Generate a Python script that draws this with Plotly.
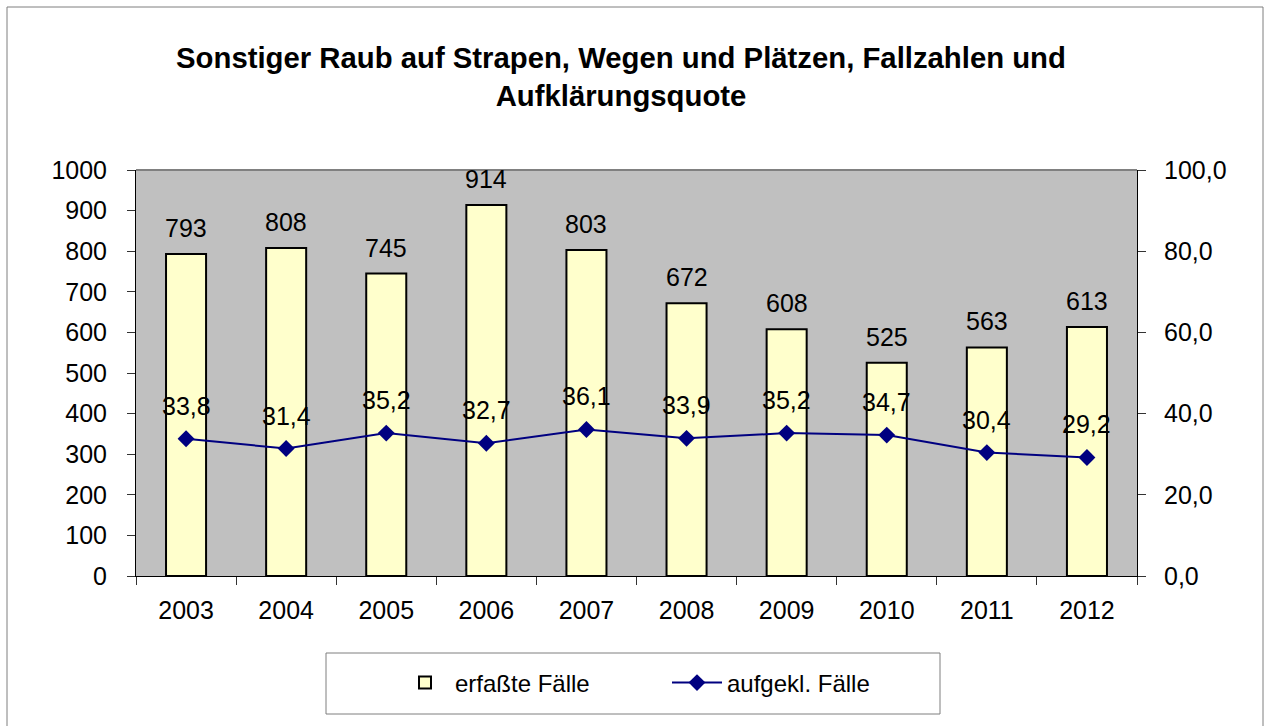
import plotly.graph_objects as go

years = ["2003", "2004", "2005", "2006", "2007", "2008", "2009", "2010", "2011", "2012"]
erfasste = [793, 808, 745, 914, 803, 672, 608, 525, 563, 613]
aufgeklaert = [33.8, 31.4, 35.2, 32.7, 36.1, 33.9, 35.2, 34.7, 30.4, 29.2]

title_text = "Sonstiger Raub auf Strapen, Wegen und Plätzen, Fallzahlen und<br>Aufklärungsquote"
name_bar = "erfaßte Fälle"
name_line = "aufgekl. Fälle"

FONT = "Arial, Liberation Sans, sans-serif"

fig = go.Figure()
fig.add_trace(go.Bar(
    x=years, y=erfasste, name=name_bar, width=0.4,
    marker=dict(color="#FFFFCC", line=dict(color="#000000", width=2)),
    yaxis="y",
))
fig.add_trace(go.Scatter(
    x=years, y=aufgeklaert, name=name_line, mode="lines+markers",
    line=dict(color="#000080", width=2),
    marker=dict(symbol="diamond", size=13, color="#000080"),
    yaxis="y2",
))

annotations = []
for i, v in enumerate(erfasste):
    annotations.append(dict(x=i, y=v, xref="x", yref="y", text=str(v), showarrow=False,
                            yanchor="middle", yshift=26, font=dict(family=FONT, size=25, color="#000")))
for i, v in enumerate(aufgeklaert):
    annotations.append(dict(x=i, y=v, xref="x", yref="y2", text=f"{v:.1f}".replace(".", ","), showarrow=False,
                            yanchor="middle", yshift=33, font=dict(family=FONT, size=25, color="#000")))

L, R, T, B = 136, 129, 170, 150
W, H = 1266, 726
pw, ph = W - L - R, H - T - B

def px_x(p):
    return (p - L) / pw

def px_y(p):
    return (H - B - p) / ph

shapes = [
    # outer chart border
    dict(type="rect", xref="paper", yref="paper", x0=px_x(7), x1=px_x(1263), y0=px_y(760), y1=px_y(7),
         line=dict(color="#7f7f7f", width=1), fillcolor="rgba(0,0,0,0)", layer="below"),
    # top border of plot area
    dict(type="line", xref="paper", yref="paper", x0=0, x1=1, y0=1, y1=1,
         line=dict(color="#808080", width=2)),
    # legend box
    dict(type="rect", xref="paper", yref="paper", x0=px_x(326), x1=px_x(940), y0=px_y(714), y1=px_y(653),
         line=dict(color="#7f7f7f", width=1), fillcolor="rgba(0,0,0,0)"),
]

fig.update_layout(
    width=W, height=H,
    margin=dict(l=L, r=R, t=T, b=B),
    paper_bgcolor="#FFFFFF",
    plot_bgcolor="#C0C0C0",
    separators=",.",
    font=dict(family=FONT, size=25, color="#000000"),
    title=dict(text=title_text, x=621 / W, xref="container", xanchor="center",
               y=1 - 68 / H, yref="container", yanchor="middle",
               font=dict(family=FONT, size=29.3, color="#000000", weight="bold")),
    showlegend=True,
    legend=dict(orientation="h", x=px_x(395), xanchor="left", y=px_y(683), yanchor="middle",
                font=dict(family=FONT, size=24), bgcolor="rgba(0,0,0,0)", borderwidth=0,
                entrywidth=207, itemwidth=50),
    xaxis=dict(type="category", range=[-0.5, len(years) - 0.5], autorange=False,
               showline=True, linecolor="#000000", linewidth=1,
               ticks="outside", tickson="boundaries", ticklen=8, tickcolor="#333333",
               showgrid=False, ticklabelstandoff=12, tickfont=dict(size=25)),
    yaxis=dict(range=[0, 1000], dtick=100, showline=True, linecolor="#000000", linewidth=1,
               ticks="outside", ticklen=8, tickcolor="#333333", showgrid=False, zeroline=False,
               ticklabelstandoff=15, tickfont=dict(size=25)),
    yaxis2=dict(range=[0, 100], dtick=20, tickformat=".1f", overlaying="y", side="right",
                showline=True, linecolor="#000000", linewidth=1,
                ticks="outside", ticklen=8, tickcolor="#333333", showgrid=False, zeroline=False,
                ticklabelstandoff=13, tickfont=dict(size=25)),
    annotations=annotations,
    shapes=shapes,
)

fig.write_html("out.html", config={"displayModeBar": False},
               post_script="document.body.style.margin='0';")
